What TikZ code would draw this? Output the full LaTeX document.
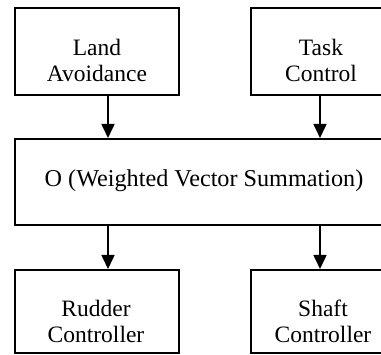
\documentclass[tikz,border=0pt]{standalone}
\usepackage{fontspec}
\setmainfont{Liberation Serif}
\usetikzlibrary{arrows.meta}
\begin{document}
\begin{tikzpicture}[x=1pt,y=-1pt,
  blk/.style={draw, line width=1.6pt, rectangle, inner sep=0pt, anchor=north west},
  lbl/.style={align=center, inner sep=0pt, anchor=base, font=\fontsize{23.5}{26}\selectfont},
  arr/.style={line width=1.6pt, -{Triangle[length=14pt,width=13pt]}}]
\useasboundingbox (0,0) rectangle (381,355);
\clip (0,0) rectangle (381,355);
\node[blk, minimum width=164pt, minimum height=87pt] (la) at (14,7) {};
\node[blk, minimum width=164pt, minimum height=87pt] (tc) at (250,7) {};
\node[blk, minimum width=400pt, minimum height=86pt] (ws) at (14,138) {};
\node[blk, minimum width=164pt, minimum height=83pt] (rc) at (14,269) {};
\node[blk, minimum width=164pt, minimum height=83pt] (sc) at (250,269) {};
\node[lbl] (lat) at (97,82) {Land\\Avoidance};
\node[lbl] (tct) at (321,82) {Task\\Control};
\node[lbl, font=\fontsize{24.2}{26}\selectfont] (wst) at (204,187) {O (Weighted Vector Summation)};
\node[lbl] (rct) at (96,343) {Rudder\\Controller};
\node[lbl] (sct) at (323,343) {Shaft\\Controller};
\coordinate (xl) at (108,0);
\coordinate (xr) at (320,0);
\draw[arr] (la.south -| xl) -- (ws.north -| xl);
\draw[arr] (tc.south -| xr) -- (ws.north -| xr);
\draw[arr] (ws.south -| xl) -- (rc.north -| xl);
\draw[arr] (ws.south -| xr) -- (sc.north -| xr);
\end{tikzpicture}
\end{document}
